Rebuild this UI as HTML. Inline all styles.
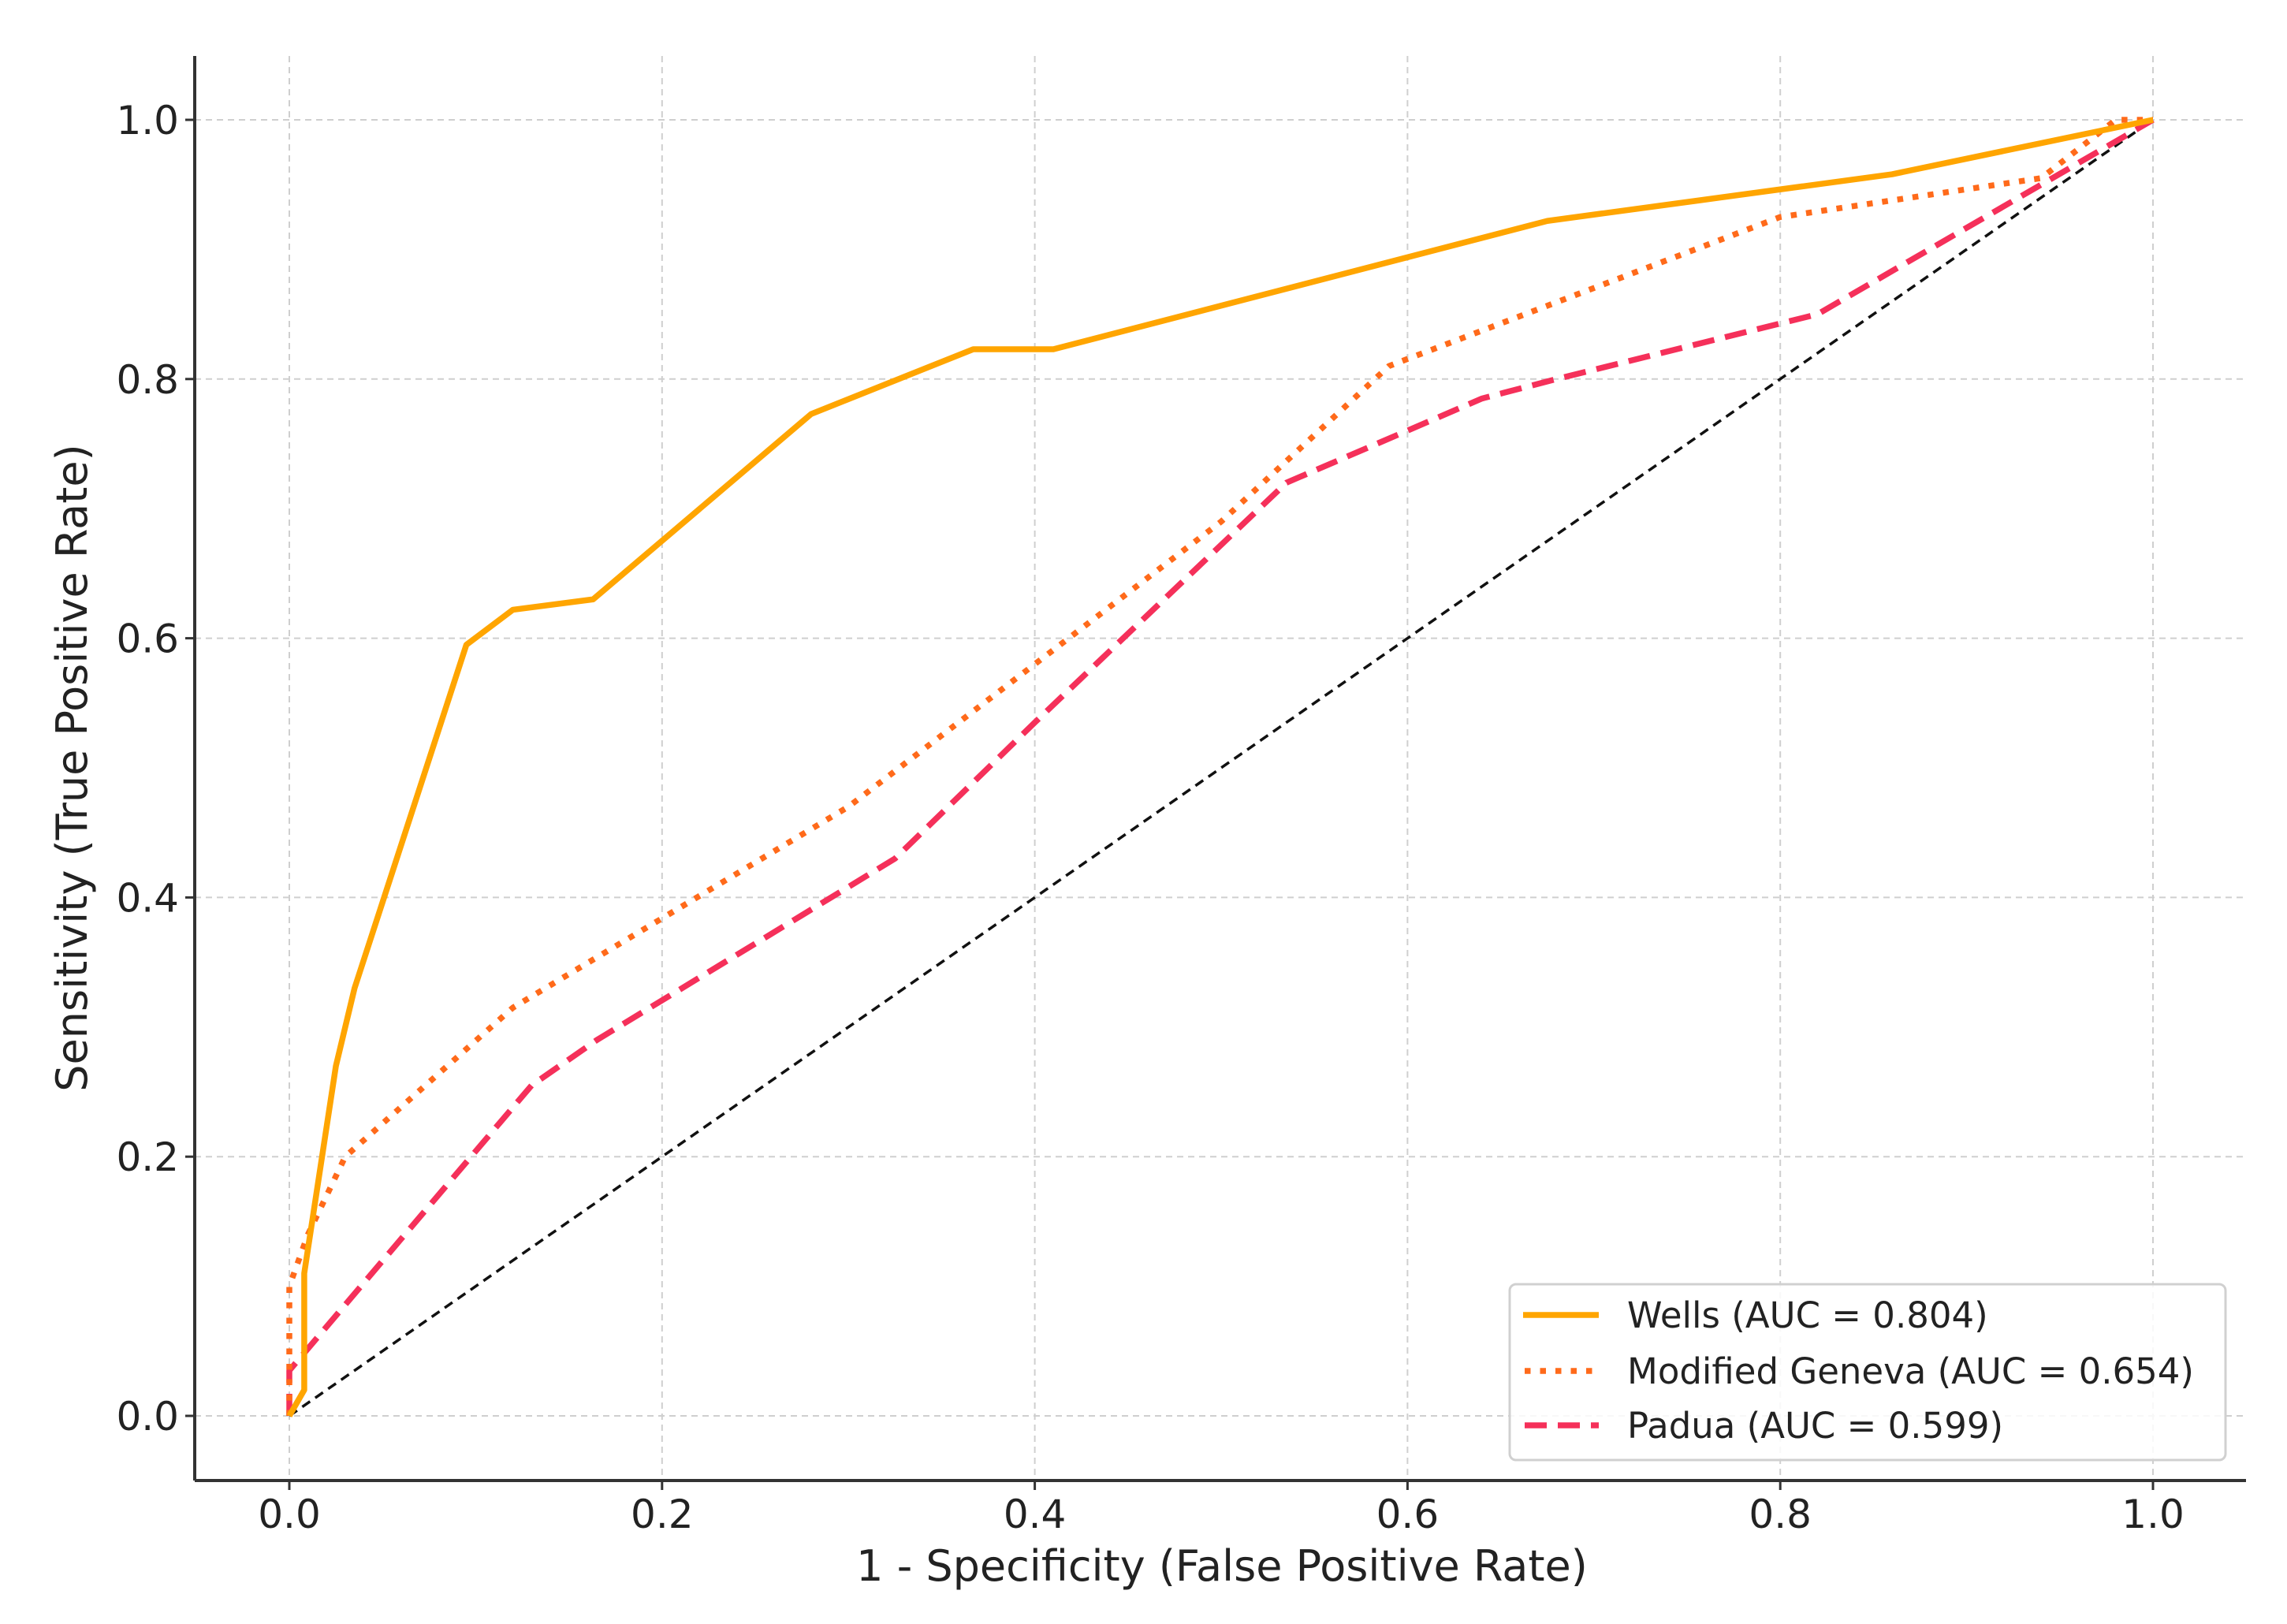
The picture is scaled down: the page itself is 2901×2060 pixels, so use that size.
<!DOCTYPE html>
<html><head><meta charset="utf-8"><style>html,body{margin:0;padding:0;background:#fff}svg{display:block}text{font-family:"DejaVu Sans","Liberation Sans",sans-serif;fill:#222}</style></head>
<body>
<svg id="chart" width="2901" height="2060" viewBox="0 0 2901 2060" xmlns="http://www.w3.org/2000/svg">
<g id="grid"></g>
<g id="series"></g>
<g id="axes"></g>
<text x="1550" y="2005" text-anchor="middle" font-size="54">1 - Specificity (False Positive Rate)</text>
<text transform="translate(110,974) rotate(-90)" text-anchor="middle" font-size="54">Sensitivity (True Positive Rate)</text>
<g id="legend">
<rect x="1915" y="1629" width="908" height="223" rx="8" fill="#fff" fill-opacity="0.85" stroke="#d0d0d0" stroke-width="3"/>
<line x1="1932" y1="1668" x2="2028" y2="1668" stroke="#FFA500" stroke-width="7.5"/>
<text x="2064" y="1684" font-size="45">Wells (AUC = 0.804)</text>
<line x1="1934" y1="1739" x2="2028" y2="1739" stroke="#FF6A1A" stroke-width="7.5" stroke-dasharray="7.5 12"/>
<text x="2064" y="1755" font-size="45">Modified Geneva (AUC = 0.654)</text>
<line x1="1934" y1="1808" x2="2028" y2="1808" stroke="#F5305A" stroke-width="7.5" stroke-dasharray="28 14"/>
<text x="2064" y="1824" font-size="45">Padua (AUC = 0.599)</text>
</g>
</svg>
<script>
const ticks = [0, 0.2, 0.4, 0.6, 0.8, 1.0];
const tickLabels = ["0.0", "0.2", "0.4", "0.6", "0.8", "1.0"];
const wellsX = [0, 0.008, 0.008, 0.025, 0.035, 0.095, 0.12, 0.163, 0.28, 0.367, 0.41, 0.675, 0.86, 1];
const wellsY = [0, 0.02, 0.11, 0.27, 0.33, 0.595, 0.622, 0.63, 0.773, 0.823, 0.823, 0.922, 0.958, 1];
const genevaX = [0, 0, 0.01, 0.03, 0.12, 0.3, 0.5, 0.59, 0.8, 0.94, 0.98, 1];
const genevaY = [0, 0.1, 0.14, 0.2, 0.315, 0.47, 0.69, 0.81, 0.925, 0.955, 1.0, 1];
const paduaX = [0, 0, 0.13, 0.165, 0.325, 0.4, 0.535, 0.64, 0.68, 0.82, 1];
const paduaY = [0, 0.035, 0.255, 0.29, 0.43, 0.535, 0.72, 0.785, 0.8, 0.85, 1];
const refX = [0, 1];
const refY = [0, 1];

const NS = "http://www.w3.org/2000/svg";
const X0 = 367, X1 = 2731, Y0 = 1796, Y1 = 152;
const L = 247, R = 2849, T = 71, B = 1878;
const sx = v => X0 + v * (X1 - X0);
const sy = v => Y0 - v * (Y0 - Y1);
function mk(tag, attrs, parent) {
  const e = document.createElementNS(NS, tag);
  for (const k in attrs) e.setAttribute(k, attrs[k]);
  parent.appendChild(e);
  return e;
}
const grid = document.getElementById('grid');
const axes = document.getElementById('axes');
const series = document.getElementById('series');
ticks.forEach((t, i) => {
  const gv = mk('line', {x1: sx(t), x2: sx(t), y1: T, y2: B, stroke: '#cfcfcf', 'stroke-width': 2, 'stroke-dasharray': '8 6'}, grid);
  
  
  const gh = mk('line', {x1: L, x2: R, y1: sy(t), y2: sy(t), stroke: '#cfcfcf', 'stroke-width': 2, 'stroke-dasharray': '8 6'}, grid);
  
  
  const tx = mk('line', {x1: sx(t), x2: sx(t), y1: B, y2: B + 12, stroke: '#333', 'stroke-width': 3}, axes);
  
  
  const ty = mk('line', {x1: L - 12, x2: L, y1: sy(t), y2: sy(t), stroke: '#333', 'stroke-width': 3}, axes);
  
  
  const lx = mk('text', {x: sx(t), y: 1938, 'text-anchor': 'middle', 'font-size': 50}, axes);
  lx.textContent = tickLabels[i];
  
  
  const ly = mk('text', {x: 227, y: sy(t) + 18, 'text-anchor': 'end', 'font-size': 50}, axes);
  ly.textContent = tickLabels[i];
  
  
});
const sp1 = mk('line', {x1: L, x2: L, y1: T, y2: B, stroke: '#333', 'stroke-width': 4}, axes);


const sp2 = mk('line', {x1: L, x2: R, y1: B, y2: B, stroke: '#333', 'stroke-width': 4}, axes);


function pts(xs, ys) { return xs.map((x, i) => sx(x) + ',' + sy(ys[i])).join(' '); }
const ref = mk('polyline', {points: pts(refX, refY), fill: 'none', stroke: '#111', 'stroke-width': 3.5, 'stroke-dasharray': '12 8'}, series);


const pad = mk('polyline', {points: pts(paduaX, paduaY), fill: 'none', stroke: '#F5305A', 'stroke-width': 7.5, 'stroke-dasharray': '28 14', 'stroke-linejoin': 'round'}, series);


const gen = mk('polyline', {points: pts(genevaX, genevaY), fill: 'none', stroke: '#FF6A1A', 'stroke-width': 7.5, 'stroke-dasharray': '7.5 12', 'stroke-linejoin': 'round'}, series);


const wel = mk('polyline', {points: pts(wellsX, wellsY), fill: 'none', stroke: '#FFA500', 'stroke-width': 7.5, 'stroke-linejoin': 'round'}, series);


</script>
</body></html>
